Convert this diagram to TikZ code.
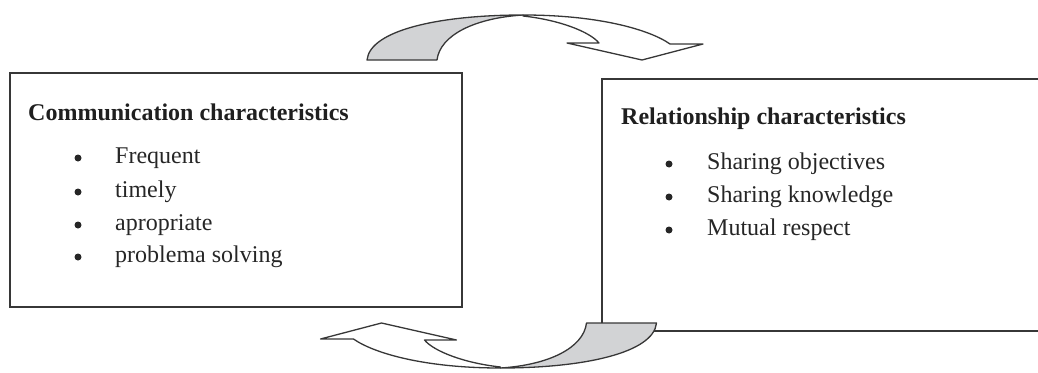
\documentclass[tikz,border=0pt]{standalone}
\usepackage{fontspec}
\setmainfont{Liberation Serif}
\newcommand\twistshape{%
  \draw[arrowline, fill=ribbongray] (367,60) .. controls (370,30) and (440,15) .. (523,15)
     .. controls (475,18) and (440,35) .. (437,60) -- cycle;
  \draw[arrowline, fill=white] (523,15) .. controls (600,15) and (650,30) .. (670,44)
     -- (703,44) -- (642,60) -- (567,43) -- (599,43)
     .. controls (590,32) and (560,20) .. (523,16) -- cycle;
}
\definecolor{ribbongray}{RGB}{210,211,213}
\definecolor{edge}{RGB}{55,55,55}
\begin{document}
\begin{tikzpicture}[x=1pt,y=-1pt,
  box/.style={draw=edge, line width=1.5pt, inner sep=0pt, outer sep=0pt, anchor=north west},
  arrowline/.style={draw=edge, line width=1.3pt, line join=round},
  head/.style={anchor=base west, inner sep=0pt, font=\fontsize{24}{28}\selectfont\bfseries, text=black!88},
  item/.style={anchor=base west, inner sep=0pt, font=\fontsize{24}{28}\selectfont, text=black!85},
  bul/.style={circle, fill=black!85, inner sep=0pt, minimum size=7pt}]
\useasboundingbox (0,0) rectangle (1038,372);
\clip (0,0) rectangle (1038,372);
% boxes
\node[box, minimum width=452pt, minimum height=234pt] (comm) at (10,73) {};
\node[box, minimum width=470pt, minimum height=252pt] (rel) at (602,79) {};
% left texts
\node[head] (commh) at (28,120) {Communication characteristics};
\node[bul] (b1) at (78,158) {};
\node[item] (c1) at (115,163) {Frequent};
\node[bul] (b2) at (78,192) {};
\node[item] (c2) at (115,197) {timely};
\node[bul] (b3) at (78,225) {};
\node[item] (c3) at (115,230) {apropriate};
\node[bul] (b4) at (78,257) {};
\node[item] (c4) at (115,262) {problema solving};
% right texts
\node[head] (relh) at (621,124) {Relationship characteristics};
\node[bul] (r1b) at (669,164) {};
\node[item] (r1) at (707,169) {Sharing objectives};
\node[bul] (r2b) at (669,197) {};
\node[item] (r2) at (707,202) {Sharing knowledge};
\node[bul] (r3b) at (669,230) {};
\node[item] (r3) at (707,235) {Mutual respect};
% curved arrows
\twistshape
\begin{scope}[rotate around={180:(511.75,191.5)}]
\twistshape
\end{scope}
\end{tikzpicture}
\end{document}
